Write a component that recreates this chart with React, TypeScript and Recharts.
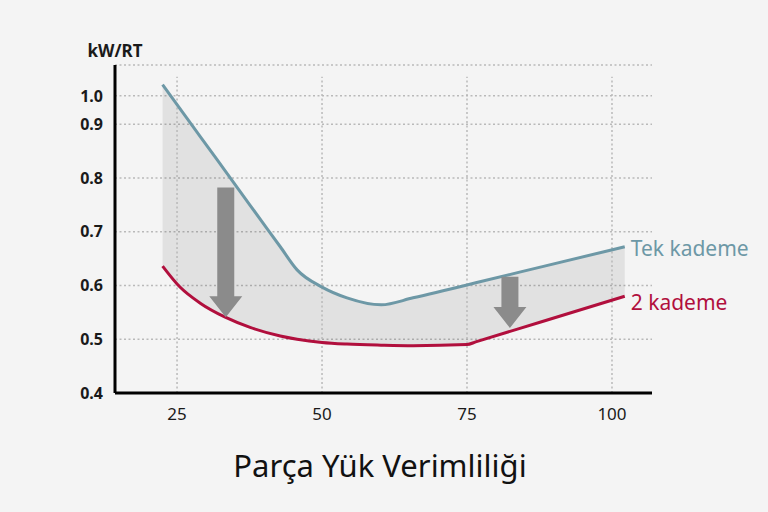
import {
  ComposedChart,
  Line,
  Area,
  XAxis,
  YAxis,
  CartesianGrid,
  ReferenceLine,
  LabelList,
} from 'recharts';

// Part load (%) and kW/RT values
const loads = [22.5, 25.5, 29, 33.3, 37.6, 42.8, 45.7, 50, 54.3, 60.2, 65.7, 75, 76.5, 88, 102.2];
const tekKademe = [1.04, 0.955, 0.877, 0.813, 0.749, 0.672, 0.629, 0.597, 0.577, 0.564, 0.577, 0.601, 0.605, 0.635, 0.672];
const ikiKademe = [0.636, 0.597, 0.567, 0.541, 0.522, 0.506, 0.5, 0.494, 0.491, 0.489, 0.488, 0.49, 0.495, 0.533, 0.58];

const xTicks = [25, 50, 75, 100];
const yTickValues = [0.4, 0.5, 0.6, 0.7, 0.8, 0.9, 1.0];
const yTickLabels = ['0.4', '0.5', '0.6', '0.7', '0.8', '0.9', '1.0'];

// gray arrows (load, from, to)
const arrowLoads = [33.4, 82.4];
const arrowFrom = [0.782, 0.616];
const arrowTo = [0.541, 0.521];

const FONT = '"Noto Sans", "Open Sans", sans-serif';
const BLUE = '#6d98a6';
const RED = '#b10f3d';
const GRID = '#b9b9b9';

// the axis above 0.9 is squeezed to about half its pitch
const toDisplay = (v: number) => (v <= 0.9 ? v : 0.9 + (v - 0.9) * 0.526);
const displayTicks = yTickValues.map(toDisplay);

const rows = loads.map((load, i) => ({
  load,
  tek: toDisplay(tekKademe[i]),
  iki: toDisplay(ikiKademe[i]),
  band: [toDisplay(ikiKademe[i]), toDisplay(tekKademe[i])],
}));

const lastLoad = loads[loads.length - 1];

const arrowShape = (p: any) => {
  const { x1, y1, y2 } = p;
  const sw = 8.5;
  const hw = 16.5;
  const hh = 21;
  const pts = [
    [x1 - sw, y1],
    [x1 + sw, y1],
    [x1 + sw, y2 - hh],
    [x1 + hw, y2 - hh],
    [x1, y2],
    [x1 - hw, y2 - hh],
    [x1 - sw, y2 - hh],
  ]
    .map((q) => q.join(','))
    .join(' ');
  return <polygon points={pts} fill="#8b8b8b" />;
};

const endLabel = (text: string, color: string, dy: number) => (props: any) => {
  if (props.value !== lastLoad) return null;
  const x = props.x ?? props.viewBox?.x;
  const y = props.y ?? props.viewBox?.y;
  return (
    <text
      x={x + 6}
      y={y + dy}
      fill={color}
      fontSize={21}
      fontFamily={FONT}
      dominantBaseline="central"
    >
      {text}
    </text>
  );
};

export default function App() {
  return (
    <div style={{ position: 'absolute', left: 0, top: 0, width: 768, height: 512, background: '#f4f4f4' }}>
      <ComposedChart
        width={768}
        height={512}
        data={rows}
        margin={{ top: 65, right: 116, bottom: 89, left: 55 }}
      >
        <CartesianGrid vertical={false} stroke={GRID} strokeDasharray="2 2.5" strokeWidth={1.5} />
        {xTicks.map((t) => (
          <ReferenceLine
            key={t}
            segment={[
              { x: t, y: 0.4 },
              { x: t, y: 0.988 },
            ]}
            stroke={GRID}
            strokeDasharray="2 2.5"
            strokeWidth={1.5}
          />
        ))}
        <Area
          type="monotone"
          dataKey="band"
          stroke="none"
          fill="#000"
          fillOpacity={0.075}
          isAnimationActive={false}
        />
        <Line
          type="monotone"
          dataKey="iki"
          stroke={RED}
          strokeWidth={3}
          dot={false}
          activeDot={false}
          isAnimationActive={false}
        >
          <LabelList dataKey="load" content={endLabel('2 kademe', RED, 6)} />
        </Line>
        <Line
          type="monotone"
          dataKey="tek"
          stroke={BLUE}
          strokeWidth={3}
          dot={false}
          activeDot={false}
          isAnimationActive={false}
        >
          <LabelList dataKey="load" content={endLabel('Tek kademe', BLUE, 1)} />
        </Line>
        {arrowLoads.map((a, i) => (
          <ReferenceLine
            key={'arrow' + i}
            segment={[
              { x: a, y: arrowFrom[i] },
              { x: a, y: arrowTo[i] },
            ]}
            shape={arrowShape}
          />
        ))}
        <XAxis
          type="number"
          dataKey="load"
          domain={[14.3, 106.9]}
          ticks={xTicks}
          allowDataOverflow
          height={30}
          tickLine={false}
          tickSize={0}
          tickMargin={15}
          axisLine={{ stroke: '#000', strokeWidth: 3 }}
          tick={{ fontSize: 17, fontFamily: FONT, fill: '#1a1a1a' }}
        />
        <YAxis
          type="number"
          domain={[0.4, 1.01]}
          ticks={displayTicks}
          allowDataOverflow
          width={60}
          tickLine={false}
          tickSize={0}
          tickMargin={12}
          axisLine={{ stroke: '#000', strokeWidth: 3 }}
          tickFormatter={(v: number) => yTickLabels[displayTicks.findIndex((d) => Math.abs(d - v) < 1e-6)] ?? ''}
          tick={{ fontSize: 16, fontFamily: FONT, fontWeight: 700, fill: '#1a1a1a' }}
        />
      </ComposedChart>
      <div
        style={{
          position: 'absolute',
          left: 75,
          top: 40,
          width: 80,
          textAlign: 'center',
          fontFamily: FONT,
          fontWeight: 700,
          fontSize: 17,
          lineHeight: '22px',
          color: '#1a1a1a',
        }}
      >
        kW/RT
      </div>
      <div
        style={{
          position: 'absolute',
          left: 0,
          top: 444,
          width: 760,
          textAlign: 'center',
          fontFamily: FONT,
          fontSize: 31,
          lineHeight: '42px',
          color: '#111',
        }}
      >
        Parça Yük Verimliliği
      </div>
    </div>
  );
}
